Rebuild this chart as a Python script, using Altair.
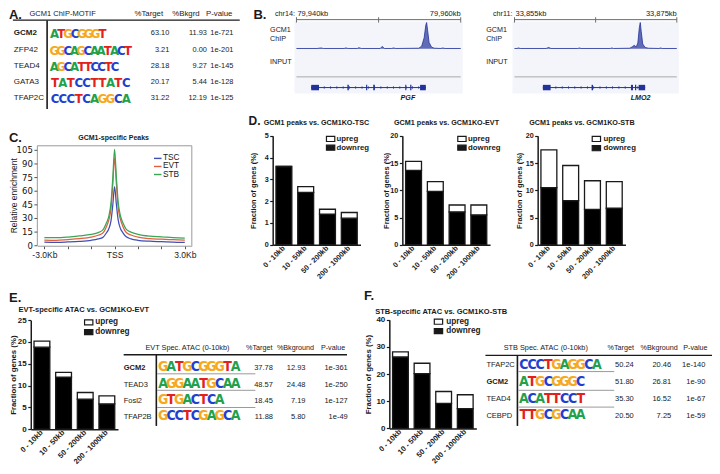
import altair as alt
import pandas as pd

W, H = 704, 458
SX = W / 720.0
SY = H / 472.0


def X(p):
    return round(p * SX, 2)


def Y(p):
    return round((p - 1.0) * SY, 2)


FONT = "Liberation Sans, Arial, Helvetica, sans-serif"
LOGO_FONT = "Liberation Sans Narrow, DejaVu Sans Condensed, Liberation Sans, sans-serif"
INK = "#1a1a1a"
NAVY = "#22329a"
LETTER_COLORS = {"A": "#22a04a", "C": "#1f3fcf", "G": "#f6a91f", "T": "#e3211c"}

# ---------------- data ----------------
A_names = ["GCM2", "ZFP42", "TEAD4", "GATA3", "TFAP2C"]
A_motifs = ["ATGCGGGT", "GGCAGCAATACT", "AGCATTCCTC", "TATCCTTATC", "CCCTCAGGCA"]
A_target = [63.10, 3.21, 28.18, 20.17, 31.22]
A_bkgrd = [11.93, 0.00, 9.27, 5.44, 12.19]
A_pval = ["1e-721", "1e-201", "1e-145", "1e-128", "1e-125"]

B1_kb = [79940.0, 79942.5, 79943.0, 79943.3, 79945.8, 79946.0, 79946.3, 79947.4, 79947.6, 79947.9,
         79950.2, 79950.45, 79950.7, 79951.6, 79951.8, 79952.1, 79954.9, 79955.25, 79955.55, 79955.75,
         79955.85, 79955.97, 79956.15, 79956.45, 79956.8, 79957.6, 79957.8, 79958.1, 79960.0]
B1_sig = [0.01, 0.01, 0.03, 0.01, 0.01, 0.03, 0.01, 0.01, 0.04, 0.01,
          0.01, 0.09, 0.01, 0.01, 0.03, 0.01, 0.02, 0.10, 0.42, 0.90,
          1.00, 0.70, 0.24, 0.06, 0.02, 0.01, 0.03, 0.01, 0.01]
B1_exon_s = [79941.8, 79946.2, 79948.48, 79949.35, 79953.25, 79953.85, 79955.05]
B1_exon_e = [79942.75, 79946.38, 79948.62, 79949.55, 79953.38, 79954.0, 79955.75]
B1_span = [79941.8, 79955.75]

B2_kb = [33855.0, 33855.3, 33855.5, 33855.7, 33858.9, 33859.2, 33859.5, 33862.8, 33863.0, 33863.2,
         33866.8, 33867.0, 33867.2, 33869.2, 33869.5, 33869.75, 33870.0, 33870.2, 33870.38, 33870.5,
         33870.62, 33870.8, 33871.1, 33871.5, 33872.8, 33873.0, 33873.2, 33875.0]
B2_sig = [0.01, 0.01, 0.03, 0.01, 0.01, 0.05, 0.01, 0.01, 0.03, 0.01,
          0.01, 0.03, 0.01, 0.02, 0.07, 0.13, 0.07, 0.22, 0.80, 1.00,
          0.65, 0.18, 0.05, 0.02, 0.01, 0.03, 0.01, 0.01]
B2_exon_s = [33858.5, 33864.5, 33869.35, 33869.85, 33870.3]
B2_exon_e = [33859.45, 33864.68, 33869.6, 33870.0, 33871.1]
B2_span = [33858.5, 33871.1]

C_pos = [-3000, -2500, -2000, -1500, -1000, -700, -500, -350, -250, -150, -75, 0,
         75, 150, 250, 350, 500, 700, 1000, 1500, 2000, 2500, 3000]
C_stb = [9.0, 8.8, 9.5, 10.8, 12.5, 14.5, 17.5, 25.0, 32.0, 48.0, 75.0, 106.0,
         76.0, 49.0, 33.0, 25.5, 18.0, 15.0, 12.5, 10.5, 9.8, 9.0, 8.5]
C_evt = [6.2, 6.0, 6.8, 7.8, 9.5, 11.5, 14.0, 21.0, 28.0, 42.0, 68.0, 97.0,
         69.0, 43.0, 29.0, 21.5, 14.5, 11.8, 9.5, 7.8, 7.2, 6.6, 6.3]
C_tsc = [4.0, 3.8, 4.2, 4.8, 6.0, 7.5, 9.2, 14.0, 18.5, 28.0, 45.0, 65.0,
         46.0, 29.0, 19.0, 14.5, 9.8, 7.6, 6.0, 5.0, 4.5, 4.0, 3.6]
C_series = ["TSC", "EVT", "STB"]
C_colors = ["#3f4fb5", "#e0603f", "#3aa655"]
C_yticks = [0, 15, 30, 45, 60, 75, 90, 105]
C_ylabels = ["0", "15", "30", "45", "60", "75", "90", "105"]
C_xticks = [-3000, -2000, -1000, 0, 1000, 2000, 3000]
C_ymax = 110

DIST = ["0 - 10kb", "10 - 50kb", "50 - 200kb", "200 - 1000kb"]
D_tsc_down = [3.59, 2.40, 1.41, 1.22]
D_tsc_up = [0.0, 0.27, 0.22, 0.26]
D_evt_down = [13.65, 9.8, 6.05, 5.5]
D_evt_up = [1.65, 1.8, 1.25, 1.8]
D_stb_down = [10.5, 8.1, 6.5, 6.7]
D_stb_up = [6.9, 6.45, 5.25, 4.9]
E_down = [18.8, 11.9, 6.9, 5.8]
E_up = [1.4, 1.1, 1.5, 1.85]
F_down = [26.3, 20.2, 9.2, 7.3]
F_up = [1.9, 3.8, 4.4, 5.1]

E_names = ["GCM2", "TEAD3", "Fosl2", "TFAP2B"]
E_motifs = ["GATGCGGGTA", "AGGAATGCAA", "GTGACTCA", "GCCTCGAGCA"]
E_target = [37.78, 48.57, 18.45, 11.88]
E_bkg = [12.93, 24.48, 7.19, 5.80]
E_pval = ["1e-361", "1e-250", "1e-127", "1e-49"]

F_names = ["TFAP2C", "GCM2", "TEAD4", "CEBPD"]
F_motifs = ["CCCTGAGGCA", "ATGCGGGC", "ACATTCCT", "TTGCGCAA"]
F_target = [50.24, 51.80, 35.30, 20.50]
F_bkg = [20.46, 26.81, 16.52, 7.25]
F_pval = ["1e-140", "1e-90", "1e-67", "1e-59"]

# ---------------- helpers ----------------
texts, rules, rects, letters = [], [], [], []


def T(s, x, y, size=7.5, weight="normal", align="left", style="normal", color=INK,
      baseline="middle", font=FONT):
    texts.append(dict(t=s, px=X(x), py=Y(y), color=color,
                      key=(size, weight, align, style, baseline, font)))


def R(x1, y1, x2, y2, color=INK, width=1.0):
    rules.append(dict(x1=X(x1), y1=Y(y1), x2=X(x2), y2=Y(y2), color=color, key=width))


def BX(x1, y1, x2, y2, fill, stroke=None, sw=0.0):
    rects.append(dict(x1=X(x1), y1=Y(y1), x2=X(x2), y2=Y(y2), fill=fill, key=(stroke, sw)))


def logo(seq, x0, step, yb, size):
    for i, ch in enumerate(seq):
        letters.append(dict(t=ch, px=X(x0 + i * step + step / 2.0), py=Y(yb),
                            color=LETTER_COLORS[ch], key=size))


def grouped(items):
    groups = {}
    for it in items:
        groups.setdefault(it["key"], []).append(it)
    for key, its in groups.items():
        yield key, pd.DataFrame([{k: v for k, v in it.items() if k != "key"} for it in its])


def text_layers(items):
    out = []
    for key, df in grouped(items):
        size, weight, align, style, baseline, font = key
        out.append(alt.Chart(df).mark_text(fontSize=size, fontWeight=weight, align=align,
                                           fontStyle=style, baseline=baseline, font=font).encode(
            x=alt.X("px:Q", scale=None, axis=None),
            y=alt.Y("py:Q", scale=None, axis=None),
            text="t:N",
            color=alt.Color("color:N", scale=None)))
    return out


def letter_layers(items):
    out = []
    for size, df in grouped(items):
        out.append(alt.Chart(df).mark_text(fontSize=size, fontWeight="bold", align="center",
                                           baseline="alphabetic", font=LOGO_FONT).encode(
            x=alt.X("px:Q", scale=None, axis=None),
            y=alt.Y("py:Q", scale=None, axis=None),
            text="t:N",
            color=alt.Color("color:N", scale=None)))
    return out


def rule_layers(items):
    out = []
    for w, df in grouped(items):
        out.append(alt.Chart(df).mark_rule(strokeWidth=w).encode(
            x=alt.X("x1:Q", scale=None, axis=None), x2="x2:Q",
            y=alt.Y("y1:Q", scale=None, axis=None), y2="y2:Q",
            color=alt.Color("color:N", scale=None)))
    return out


def rect_layers(items):
    out = []
    for (stroke, sw), df in grouped(items):
        mk = {}
        if stroke:
            mk = dict(stroke=stroke, strokeWidth=sw)
        out.append(alt.Chart(df).mark_rect(**mk).encode(
            x=alt.X("x1:Q", scale=None, axis=None), x2="x2:Q",
            y=alt.Y("y1:Q", scale=None, axis=None), y2="y2:Q",
            color=alt.Color("fill:N", scale=None)))
    return out


def bar_panel(down, up, x0, x1, y0, y1, ymax, ystep, title_x, lab_size, tick_size, title_size):
    rows = []
    for c, d, u in zip(DIST, down, up):
        rows.append(dict(cat=c, lo=0.0, hi=d, fill="black"))
        rows.append(dict(cat=c, lo=d, hi=round(d + u, 3), fill="white"))
    df = pd.DataFrame(rows)
    xs = alt.Scale(domain=DIST, range=[X(x0), X(x1)], paddingInner=0.27, paddingOuter=0.15)
    ys = alt.Scale(domain=[0, ymax], range=[Y(y0), Y(y1)], nice=False, zero=True)
    xa = alt.Axis(orient="bottom", offset=Y(y0) - H, title=None, labelAngle=315,
                  labelAlign="right", labelBaseline="middle", labelPadding=2,
                  labelFontWeight="bold", labelFontSize=lab_size, labelColor=INK,
                  labelOverlap=False, ticks=False, domainColor=INK, domainWidth=1.5)
    ya = alt.Axis(orient="left", offset=-X(x0), values=list(range(0, ymax + 1, ystep)),
                  title="Fraction of genes (%)", titleX=X(title_x) - X(x0),
                  titleY=(Y(y0) + Y(y1)) / 2.0, titleAngle=270, titleAlign="center",
                  titleBaseline="middle", titleFontSize=title_size, titleFontWeight="bold",
                  titleColor=INK, labelFontWeight="bold", labelFontSize=tick_size,
                  labelColor=INK, labelPadding=1.5, tickSize=3, tickColor=INK,
                  tickWidth=1.2, domainColor=INK, domainWidth=1.5)
    return alt.Chart(df).mark_bar(stroke=INK, strokeWidth=1.3).encode(
        x=alt.X("cat:N", sort=DIST, scale=xs, axis=xa),
        y=alt.Y("hi:Q", scale=ys, axis=ya),
        y2="lo:Q",
        color=alt.Color("fill:N", scale=None))


def bar_legend(bx, ty1, ty2, tx, size):
    BX(bx, ty1 - 2.6, bx + 8.5, ty1 + 2.6, "white", INK, 1.2)
    BX(bx, ty2 - 2.6, bx + 8.5, ty2 + 2.6, INK, INK, 1.2)
    T("upreg", tx, ty1, size, "bold")
    T("downreg", tx, ty2, size, "bold")


def track(kb, sig, dom, x0, x1):
    df = pd.DataFrame({"kb": kb, "sig": sig})
    return alt.Chart(df).mark_area(color=NAVY, interpolate="linear",
                                   line={"color": NAVY, "strokeWidth": 0.8}).encode(
        x=alt.X("kb:Q", scale=alt.Scale(domain=dom, range=[X(x0), X(x1)], nice=False, zero=False), axis=None),
        y=alt.Y("sig:Q", scale=alt.Scale(domain=[0, 1], range=[Y(43), Y(16)], nice=False), axis=None))


def gene(ex_s, ex_e, span, dom, x0, x1):
    xs = alt.Scale(domain=dom, range=[X(x0), X(x1)], nice=False, zero=False)
    gdf = pd.DataFrame({"s": [span[0]], "e": [span[1]]})
    edf = pd.DataFrame({"s": ex_s, "e": ex_e})
    line = alt.Chart(gdf).mark_rule(color=NAVY, strokeWidth=1).encode(
        x=alt.X("s:Q", scale=xs, axis=None), x2="e:Q", y=alt.value(Y(83)))
    chev = alt.Chart(gdf).mark_rule(color=NAVY, strokeWidth=3, strokeDash=[0.8, 5.5], opacity=0.7).encode(
        x=alt.X("s:Q", scale=xs, axis=None), x2="e:Q", y=alt.value(Y(83)))
    ex = alt.Chart(edf).mark_rect(color=NAVY).encode(
        x=alt.X("s:Q", scale=xs, axis=None), x2="e:Q",
        y=alt.value(Y(80.2)), y2=alt.value(Y(85.8)))
    return [line, chev, ex]


# ---------------- Panel A ----------------
T("A.", 1, 8, 13, "bold")
T("GCM1 ChIP-MOTIF", 22, 7, 7.5)
T("%Target", 144, 7, 7.8, align="center")
T("%Bkgrd", 182, 7, 7.8, align="center")
T("P-value", 216, 7, 7.8, align="center")
R(5, 13.5, 237, 13.5, INK, 1.3)
R(40, 14, 40, 105, INK, 1.6)
A_rows = [27, 44, 60.5, 77.5, 94]
A_logo_right = [100, 126, 113, 125, 125]
for i, n in enumerate(A_names):
    yy = A_rows[i]
    T(n, 6, yy, 8, "bold" if i == 0 else "normal")
    T(f"{A_target[i]:.2f}", 165, yy, 7.4, align="right")
    T(f"{A_bkgrd[i]:.2f}", 203.5, yy, 7.4, align="right")
    T(A_pval[i], 230.5, yy, 7.4, align="right")
    step = (A_logo_right[i] - 44.0) / len(A_motifs[i])
    logo(A_motifs[i], 44, step, yy + 5, 13)

# ---------------- Panel B ----------------
T("B.", 251, 8, 13, "bold")
for (lx, cx0, cx1, chrom, l0, l1, gname, gx) in [
        (268, 295, 463, "chr14:", "79,940kb", "79,960kb", "PGF", 409),
        (489, 518, 684, "chr11:", "33,855kb", "33,875kb", "LMO2", 647)]:
    BX(cx0 - 2, 15, cx1 + 2, 89, "#f3f5fb")
    T(chrom, cx0 - 22, 7, 7.2)
    T(l0, cx0 + 1, 7, 7.5)
    T(l1, cx1, 7, 7.5, align="right")
    R(cx0, 13, cx1, 13, "#6d6d6d", 1.0)
    for tx in (cx0, (cx0 + cx1) / 2.0, cx1):
        R(tx, 10.5, tx, 16, "#6d6d6d", 1.0)
    T("GCM1", lx, 24, 7.2)
    T("ChIP", lx, 33, 7.2)
    T("INPUT", lx, 57, 7.2)
    R(cx0, 72, cx1, 72, "#a9a9a9", 1.0)
    T(gname, gx, 94, 7.2, "bold", align="center", style="italic")

# ---------------- Panel C ----------------
C_TOP, C_BOT, C_LEFT, C_RIGHT = 143, 246, 30, 188
T("C.", 1, 135, 13, "bold")
T("GCM1-specific Peaks", 108, 135, 7, "bold", align="center")
R(C_LEFT, C_TOP, C_RIGHT, C_TOP, "#9a9a9a", 1.0)
R(C_RIGHT, C_TOP, C_RIGHT, C_BOT, "#9a9a9a", 1.0)
R(C_LEFT, C_TOP, C_LEFT, C_BOT, "#9a9a9a", 1.0)
for v in C_yticks:
    yv = C_BOT + (v / C_ymax) * (C_TOP - C_BOT)
    R(C_LEFT - 3, yv, C_LEFT, yv, "#555555", 1.0)
for j, (s, c) in enumerate(zip(C_series, C_colors)):
    ly = 156 + j * 8.3
    R(149.3, ly, 157, ly, c, 1.4)
    T(s, 158.5, ly, 8.3)

# ---------------- Panel D ----------------
T("D.", 246, 117.5, 12, "bold")
T("GCM1 peaks vs. GCM1KO-TSC", 315.5, 119, 7.2, "bold", align="center")
T("GCM1 peaks vs. GCM1KO-EVT", 448.5, 119, 7.2, "bold", align="center")
T("GCM1 peaks vs. GCM1KO-STB", 587, 119, 7.2, "bold", align="center")
bar_legend(325.7, 136, 145, 336, 7.8)
bar_legend(460, 136, 145, 470.5, 7.8)
bar_legend(597.5, 136, 145.5, 609, 7.8)

# ---------------- Panel E ----------------
T("E.", 1, 300, 13, "bold")
T("EVT-specific ATAC vs. GCM1KO-EVT", 77.5, 312, 7.5, "bold", align="center")
bar_legend(78.3, 325, 335, 89.3, 8.2)
T("EVT Spec. ATAC (0-10kb)", 183.5, 351, 7.3, align="center")
T("%Target", 257, 351, 7.2, align="center")
T("%Bkground", 294, 351, 7.2, align="center")
T("P-value", 332.5, 351, 7.2, align="center")
R(118.3, 358.3, 346.7, 358.3, INK, 1.4)
R(151.7, 358.3, 151.7, 431.7, INK, 1.6)
E_rows = [372.3, 389.3, 406, 422.7]
for yy in [378, 395, 412.7]:
    R(152.5, yy, 253, yy, "#9a9a9a", 1.0)
for i, n in enumerate(E_names):
    yy = E_rows[i]
    T(n, 118.3, yy, 7.5, "bold" if i == 0 else "normal")
    T(f"{E_target[i]:.2f}", 271, yy, 7.5, align="right")
    T(f"{E_bkg[i]:.2f}", 304.3, yy, 7.5, align="right")
    T(E_pval[i], 347.5, yy, 7.5, align="right")
    logo(E_motifs[i], 154.5, 8.25, yy + 3, 14)

# ---------------- Panel F ----------------
T("F.", 364, 298, 13, "bold")
T("STB-specific ATAC vs. GCM1KO-STB", 443, 314, 7.5, "bold", align="center")
bar_legend(436, 324.3, 334, 448.3, 8.2)
T("STB Spec. ATAC (0-10kb)", 550, 351, 7.3, align="center")
T("%Target", 626.7, 351, 7.2, align="center")
T("%Bkground", 666, 351, 7.2, align="center")
T("P-value", 703, 351, 7.2, align="center")
R(488.3, 359, 720, 359, INK, 1.4)
R(521, 359, 521, 431.7, INK, 1.6)
F_rows = [369.3, 386.7, 404, 421]
for yy in [375.7, 395, 412.3]:
    R(522, yy, 620, yy, "#9a9a9a", 1.0)
for i, n in enumerate(F_names):
    yy = F_rows[i]
    T(n, 489.3, yy, 7.5, "bold" if i == 1 else "normal")
    T(f"{F_target[i]:.2f}", 640, yy, 7.5, align="right")
    T(f"{F_bkg[i]:.2f}", 678.3, yy, 7.5, align="right")
    T(F_pval[i], 713.3, yy, 7.5, align="right")
    logo(F_motifs[i], 523.5, 8.3, yy + 4, 14)

# ---------------- assemble ----------------
layers = []
layers += rect_layers(rects)

layers.append(track(B1_kb, B1_sig, [79940, 79960], 295, 463))
layers.append(track(B2_kb, B2_sig, [33855, 33875], 518, 684))
layers += gene(B1_exon_s, B1_exon_e, B1_span, [79940, 79960], 295, 463)
layers += gene(B2_exon_s, B2_exon_e, B2_span, [33855, 33875], 518, 684)

c_rows = []
for s, c, vals in zip(C_series, C_colors, [C_tsc, C_evt, C_stb]):
    for p, v in zip(C_pos, vals):
        c_rows.append(dict(pos=p, val=v, series=s, col=c))
c_df = pd.DataFrame(c_rows)
cxs = alt.Scale(domain=[-3300, 3300], range=[X(C_LEFT), X(C_RIGHT)], nice=False, zero=False)
cys = alt.Scale(domain=[0, C_ymax], range=[Y(C_BOT), Y(C_TOP)], nice=False, zero=True)
c_xaxis = alt.Axis(orient="bottom", offset=Y(C_BOT) - H, values=C_xticks,
                   labelExpr="datum.value == -3000 ? '-3.0Kb' : (datum.value == 0 ? 'TSS' : (datum.value == 3000 ? '3.0Kb' : ''))",
                   title=None, labelFontSize=8.5, labelColor=INK, tickSize=3, tickColor="#555555",
                   domainColor="#9a9a9a", labelPadding=2)
layers.append(alt.Chart(c_df).mark_line(strokeWidth=1.25, interpolate="monotone").encode(
    x=alt.X("pos:Q", scale=cxs, axis=c_xaxis), y=alt.Y("val:Q", scale=cys, axis=None),
    color=alt.Color("col:N", scale=None), detail="series:N"))

layers.append(bar_panel(D_tsc_down, D_tsc_up, 270.7, 360.5, 245, 132.7, 5, 1, 250.7, 7.3, 7.2, 7.5))
layers.append(bar_panel(D_evt_down, D_evt_up, 403.3, 493, 245, 132.7, 20, 5, 386.7, 7.3, 7.2, 7.5))
layers.append(bar_panel(D_stb_down, D_stb_up, 541.7, 631.5, 245, 132.7, 20, 5, 522.7, 7.3, 7.2, 7.5))
layers.append(bar_panel(E_down, E_up, 23.3, 112.5, 435, 322.7, 25, 5, 5.5, 7.5, 8, 7.8))
layers.append(bar_panel(F_down, F_up, 390, 479, 434.3, 322.3, 40, 10, 368.3, 7.5, 8, 7.8))

layers += rule_layers(rules)
layers += text_layers(texts)
layers += letter_layers(letters)

# panel C: y title and y tick labels as the final layers, tick labels placed by the y scale
c_lab = pd.DataFrame({"v": C_yticks, "lab": C_ylabels})
layers.append(alt.Chart(c_lab).mark_text(align="right", baseline="middle", fontSize=8.5,
                                         font="DejaVu Sans, Liberation Sans, sans-serif",
                                         color="#111111").encode(
    x=alt.value(X(C_LEFT) - 4.5),
    y=alt.Y("v:Q", scale=cys, axis=None),
    text=alt.Text("lab:N")))
layers.append(alt.Chart(pd.DataFrame({"t": ["Relative enrichment"]})).mark_text(
    angle=270, align="center", baseline="middle", fontSize=8.5, font=FONT, color=INK).encode(
    x=alt.value(X(6.5)), y=alt.value((Y(C_BOT) + Y(C_TOP)) / 2.0), text="t:N"))

chart = alt.layer(*layers).resolve_scale(
    x="independent", y="independent", color="independent"
).properties(
    width=W, height=H, padding=0, autosize=alt.AutoSizeParams(type="none")
).configure_view(stroke=None).configure_axis(grid=False, labelFont=FONT, titleFont=FONT)

chart.save("out.html", embed_options={"renderer": "svg", "actions": False})
